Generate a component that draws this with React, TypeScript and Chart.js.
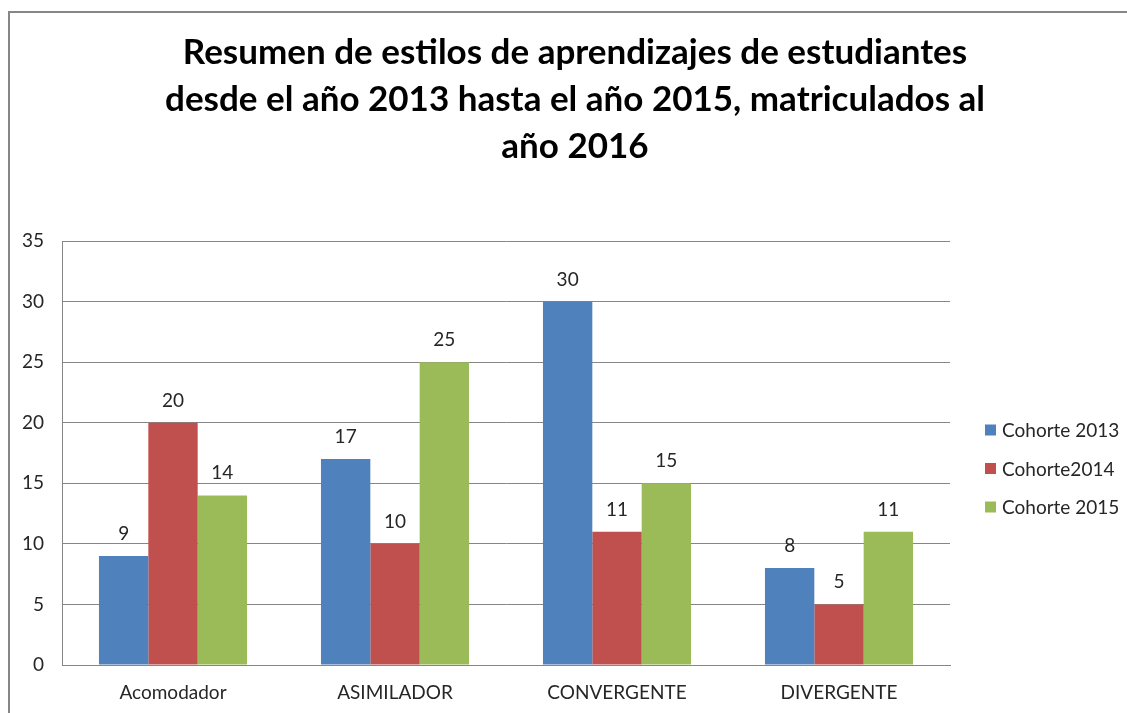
import React, { useEffect, useRef } from "react";
import { Chart, registerables } from "chart.js";

Chart.register(...registerables);

const categories = ["Acomodador", "ASIMILADOR", "CONVERGENTE", "DIVERGENTE"];
const seriesNames = ["Cohorte 2013", "Cohorte2014", "Cohorte 2015"];
const cohorte2013 = [9, 17, 30, 8];
const cohorte2014 = [20, 10, 11, 5];
const cohorte2015 = [14, 25, 15, 11];
const seriesColors = ["#4F81BD", "#C0504D", "#9BBB59"];
const titleLines = [
  "Resumen de estilos de aprendizajes de estudiantes",
  "desde el año 2013 hasta el año 2015, matriculados al",
  "año 2016",
];
const yMin = 0;
const yMax = 35;
const yStep = 5;

const FONT = "Lato, 'Noto Sans', sans-serif";

const framePlugin = {
  id: "frame",
  beforeDraw(chart: any) {
    const ctx = chart.ctx;
    ctx.save();
    ctx.fillStyle = "#ffffff";
    ctx.fillRect(0, 0, chart.width, chart.height);
    ctx.strokeStyle = "#868686";
    ctx.lineWidth = 2;
    ctx.beginPath();
    ctx.moveTo(9, chart.height + 5);
    ctx.lineTo(9, 12);
    ctx.lineTo(chart.width + 5, 12);
    ctx.stroke();
    ctx.restore();
  },
};

const titlePlugin = {
  id: "bigTitle",
  afterDraw(chart: any) {
    const ctx = chart.ctx;
    ctx.save();
    ctx.fillStyle = "#000000";
    ctx.font = `bold 35px ${FONT}`;
    ctx.textAlign = "center";
    ctx.textBaseline = "alphabetic";
    const baselines = [64, 111, 158];
    titleLines.forEach((t, i) => ctx.fillText(t, 575, baselines[i]));
    ctx.restore();
  },
};

const valueLabelPlugin = {
  id: "valueLabels",
  afterDatasetsDraw(chart: any) {
    const ctx = chart.ctx;
    ctx.save();
    ctx.fillStyle = "#262626";
    ctx.font = `19px ${FONT}`;
    ctx.textAlign = "center";
    ctx.textBaseline = "alphabetic";
    chart.data.datasets.forEach((ds: any, di: number) => {
      const meta = chart.getDatasetMeta(di);
      meta.data.forEach((bar: any, i: number) => {
        ctx.fillText(String(ds.data[i]), bar.x, bar.y - 16);
      });
    });
    ctx.restore();
  },
};

const legendPlugin = {
  id: "sideLegend",
  afterDraw(chart: any) {
    const ctx = chart.ctx;
    ctx.save();
    ctx.font = `19px ${FONT}`;
    ctx.textBaseline = "middle";
    ctx.textAlign = "left";
    const ys = [430, 468.5, 507];
    chart.data.datasets.forEach((ds: any, i: number) => {
      ctx.fillStyle = ds.backgroundColor;
      ctx.fillRect(985, ys[i] - 5.5, 11, 11);
      ctx.fillStyle = "#262626";
      ctx.fillText(ds.label, 1002, ys[i] + 1);
    });
    ctx.restore();
  },
};

export default function App() {
  const ref = useRef<HTMLCanvasElement | null>(null);

  useEffect(() => {
    if (!ref.current) return;
    const seriesData = [cohorte2013, cohorte2014, cohorte2015];
    const chart = new Chart(ref.current, {
      type: "bar",
      data: {
        labels: categories,
        datasets: seriesNames.map((name, i) => ({
          label: name,
          data: seriesData[i],
          backgroundColor: seriesColors[i],
          borderWidth: 0,
          categoryPercentage: 0.667,
          barPercentage: 1,
        })),
      },
      options: {
        responsive: false,
        animation: false,
        devicePixelRatio: 1,
        layout: { padding: { left: 0, right: 177, top: 241, bottom: 0 } },
        plugins: {
          legend: { display: false },
          title: { display: false },
          tooltip: { enabled: false },
        },
        scales: {
          x: {
            grid: { display: false, drawTicks: false },
            border: { display: true, color: "#868686", width: 1 },
            ticks: {
              color: "#262626",
              font: { family: FONT, size: 19 },
              padding: 16,
              maxRotation: 0,
            },
            afterFit(scale: any) {
              scale.height = 48;
            },
          },
          y: {
            min: yMin,
            max: yMax,
            ticks: {
              stepSize: yStep,
              color: "#262626",
              font: { family: FONT, size: 19 },
              padding: 18,
            },
            grid: { color: "#868686", drawTicks: false, lineWidth: 1 },
            border: { display: true, color: "#868686", width: 1 },
            afterFit(scale: any) {
              scale.width = 62;
            },
          },
        },
      },
      plugins: [framePlugin, titlePlugin, valueLabelPlugin, legendPlugin],
    });
    return () => chart.destroy();
  }, []);

  return (
    <canvas
      ref={ref}
      width={1127}
      height={713}
      style={{ position: "fixed", left: 0, top: 0, width: 1127, height: 713 }}
    />
  );
}
